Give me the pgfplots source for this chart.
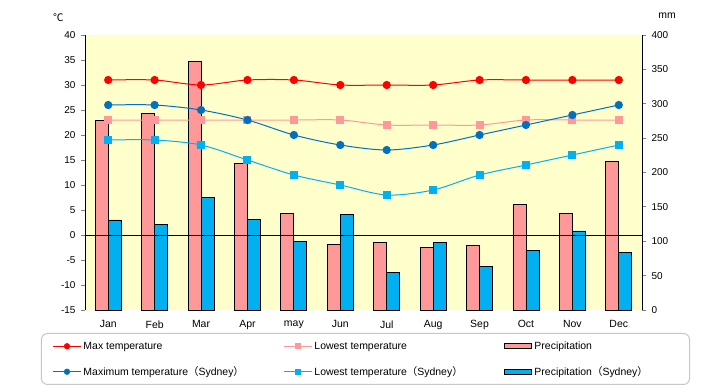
\documentclass[border=0pt]{standalone}
\usepackage{fontspec}
\setmainfont{Liberation Sans}
\newfontfamily\cjk{Noto Sans CJK JP}
\usepackage{pgfplots}
\usepackage{pgfplotstable}
\pgfplotsset{compat=1.18}
\definecolor{bgY}{HTML}{FFFFCC}
\definecolor{cRed}{HTML}{FF0000}
\definecolor{cPink}{HTML}{FF9999}
\definecolor{cDBlue}{HTML}{0070C0}
\definecolor{cLBlue}{HTML}{00B0F0}
\pgfplotstableread{
m maxT lowT sMax sLow prec sPrec
0 31 23 26 19 276 131
1 31 23 26 19 286 125
2 30 23 25 18 362 164
3 31 23 23 15 213 132
4 31 23 20 12 141 100
5 30 23 18 10 96 139
6 30 22 17 8 98 55
7 30 22 18 9 91 98
8 31 22 20 12 94 64
9 31 23 22 14 154 87
10 31 23 24 16 141 115
11 31 23 26 18 216 84
}\data
\pgfplotsset{
  linelegend/.style={legend image code/.code={\draw[sharp corners,mark repeat=2,mark phase=2,mark size=2.6bp,##1] plot coordinates {(0bp,0bp) (14bp,0bp) (28bp,0bp)};}},
  barlegend/.style={legend image code/.code={\draw[sharp corners,##1] (0bp,-2.5bp) rectangle (27bp,2.5bp);}},
}
\newcommand{\ent}[2]{\hspace{2bp}\makebox[#1][l]{\rule{0pt}{9bp}#2}}
\newcommand{\lp}{{\cjk （}}
\newcommand{\rp}{{\cjk ）}}
\begin{document}
\begin{tikzpicture}
\useasboundingbox (-85bp,-75bp) rectangle (635bp,310bp);
\begin{axis}[
  at={(0,0)}, anchor=south west, scale only axis,
  width=557bp, height=275bp,
  xmin=-0.5, xmax=11.5, ymin=0, ymax=400,
  ytick={0,50,...,400},
  axis y line*=right, axis x line*=bottom,
  x axis line style={draw=none},
  major x tick style={draw=none},
  xtick={0,...,11},
  xticklabels={Jan,Feb,Mar,Apr,may,Jun,Jul,Aug,Sep,Oct,Nov,Dec},
  tick align=outside, major tick length=4bp,
  y axis line style={line width=0.8bp},
  ytick style={line width=0.8bp},
  axis background/.style={fill=bgY},
  ticklabel style={font=\fontsize{10}{12}\selectfont},
  /pgf/number format/assume math mode=true,
  yticklabel style={xshift=2bp},
  xticklabel style={yshift=-3bp, font=\fontsize{10.5}{12}\selectfont},
  ylabel={mm}, ylabel style={rotate=-90, at={(rel axis cs:1.045,1.069)}, anchor=center, font=\fontsize{10.5}{12}\selectfont},
]
\addplot[ybar, bar width=0.28, bar shift=-0.14, fill=cPink, draw=black, line width=0.8bp] table[x=m,y=prec]{\data};
\addplot[ybar, bar width=0.28, bar shift=0.14, fill=cLBlue, draw=black, line width=0.8bp] table[x=m,y=sPrec]{\data};
\end{axis}
\begin{axis}[
  at={(0,0)}, anchor=south west, scale only axis,
  width=557bp, height=275bp,
  xmin=-0.5, xmax=11.5, ymin=-15, ymax=40,
  ytick={-15,-10,...,40},
  axis y line*=left, axis x line=none,
  tick align=outside, major tick length=4bp,
  y axis line style={line width=0.8bp},
  ytick style={line width=0.8bp},
  ticklabel style={font=\fontsize{10}{12}\selectfont},
  /pgf/number format/assume math mode=true,
  yticklabel style={xshift=-2bp},
  ylabel={{\cjk ℃}}, ylabel style={rotate=-90, at={(rel axis cs:-0.048,1.065)}, anchor=center, font=\fontsize{10.5}{12}\selectfont},
  legend columns=3,
  legend style={at={(rel axis cs:-0.079,-0.0836)}, anchor=north west,
    draw=black!22, line width=1bp, rounded corners=6bp,
    inner xsep=11bp, inner ysep=7.5bp,
    nodes={inner sep=0pt}, column sep=0pt, row sep=15bp,
    font=\fontsize{10.5}{12}\selectfont},
]
\draw[black, line width=0.8bp] (axis cs:-0.5,0) -- (axis cs:11.5,0);
\addplot[cRed, line width=1bp, smooth, tension=0.5, mark=*, mark size=3.6bp, mark options={solid,fill=cRed,draw=cRed}, forget plot] table[x=m,y=maxT]{\data};
\addplot[cPink, line width=1bp, smooth, tension=0.5, mark=square*, mark size=3.5bp, mark options={solid,fill=cPink,draw=cPink}, forget plot] table[x=m,y=lowT]{\data};
\addplot[cDBlue, line width=1bp, smooth, tension=0.5, mark=*, mark size=3.6bp, mark options={solid,fill=cDBlue,draw=cDBlue}, forget plot] table[x=m,y=sMax]{\data};
\addplot[cLBlue, line width=1bp, smooth, tension=0.5, mark=square*, mark size=3.5bp, mark options={solid,fill=cLBlue,draw=cLBlue}, forget plot] table[x=m,y=sLow]{\data};
\addlegendimage{linelegend, cRed, line width=1bp, mark=*, mark options={fill=cRed,draw=cRed}}
\addlegendentry{\ent{200bp}{Max temperature}}
\addlegendimage{linelegend, cPink, line width=1bp, mark=square*, mark options={fill=cPink,draw=cPink}}
\addlegendentry{\ent{190bp}{Lowest temperature}}
\addlegendimage{barlegend, fill=cPink, draw=black, line width=1bp}
\addlegendentry{\ent{144bp}{Precipitation}}
\addlegendimage{linelegend, cDBlue, line width=1bp, mark=*, mark options={fill=cDBlue,draw=cDBlue}}
\addlegendentry{\ent{200bp}{Maximum temperature\lp Sydney\rp}}
\addlegendimage{linelegend, cLBlue, line width=1bp, mark=square*, mark options={fill=cLBlue,draw=cLBlue}}
\addlegendentry{\ent{190bp}{Lowest temperature\lp Sydney\rp}}
\addlegendimage{barlegend, fill=cLBlue, draw=black, line width=1bp}
\addlegendentry{\ent{144bp}{Precipitation\lp Sydney\rp}}
\end{axis}
\end{tikzpicture}
\end{document}
